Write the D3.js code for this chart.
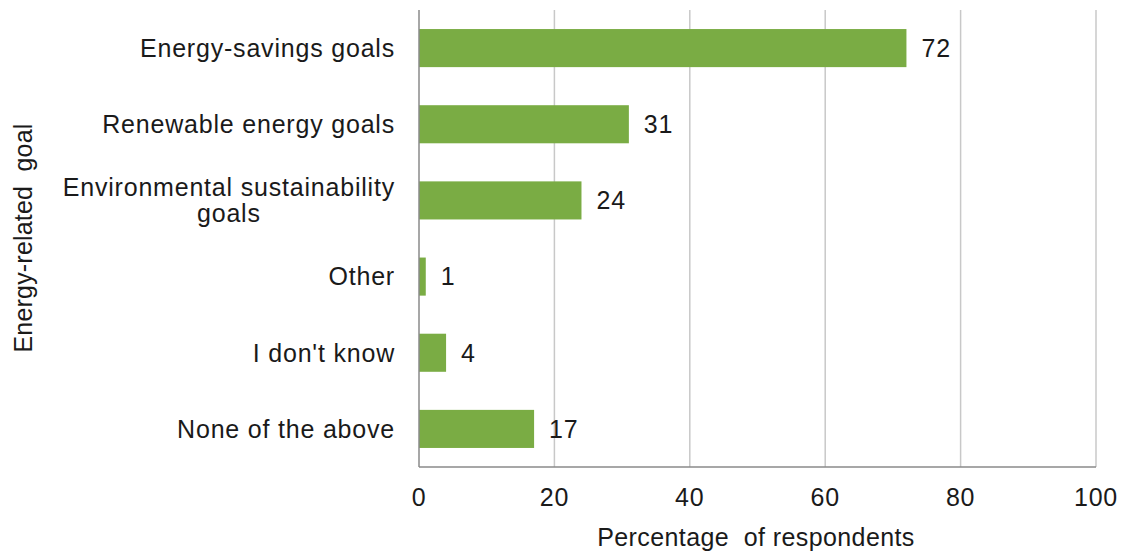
<!DOCTYPE html>
<html><head><meta charset="utf-8">
<script src="https://cdn.jsdelivr.net/npm/d3@7"></script>
<style>
body{margin:0;background:#fff;}
text{font-family:"Liberation Sans",Arial,sans-serif;fill:#1a1a1a;}
</style></head>
<body><svg id="c" width="1121" height="554"></svg>
<script>
const categories = [["Energy-savings goals"],["Renewable energy goals"],["Environmental sustainability","goals"],["Other"],["I don't know"],["None of the above"]];
const values = [72, 31, 24, 1, 4, 17];
const xTicks = [0, 20, 40, 60, 80, 100];
const xTitle = "Percentage  of respondents";
const yTitle = "Energy-related  goal";

const FS = 25, LS = "0.8px";
const svg = d3.select("#c");
const m = {left:419, right:1096, top:10, bottom:467};
const keys = categories.map(c => c.join(" "));
const x = d3.scaleLinear().domain([0,100]).range([m.left, m.right]);
const y = d3.scaleBand().domain(keys).range([m.top, m.bottom]).paddingInner(0.5).paddingOuter(0.25);

// gridlines
svg.append("g").selectAll("line").data(xTicks.slice(1)).join("line")
  .attr("x1", d=>x(d)).attr("x2", d=>x(d)).attr("y1", m.top).attr("y2", m.bottom)
  .attr("stroke", "#c8c8c8").attr("stroke-width", 1.5);

// bars
svg.append("g").selectAll("rect").data(values).join("rect")
  .attr("x", x(0)).attr("y", (d,i)=>y(keys[i]))
  .attr("width", d=>x(d)-x(0)).attr("height", y.bandwidth())
  .attr("fill", "#7aac44");

// value labels
svg.append("g").selectAll("text").data(values).join("text")
  .attr("x", d=>x(d)+15).attr("y", (d,i)=>y(keys[i])+y.bandwidth()/2)
  .attr("dy", "0.35em").attr("font-size", FS).style("letter-spacing", LS).text(d=>d);

// axes lines
svg.append("line").attr("x1", x(0)).attr("x2", x(0)).attr("y1", m.top).attr("y2", m.bottom)
  .attr("stroke", "#8a8a8a").attr("stroke-width", 1.5);
svg.append("line").attr("x1", x(0)).attr("x2", m.right).attr("y1", m.bottom).attr("y2", m.bottom)
  .attr("stroke", "#8a8a8a").attr("stroke-width", 1.5);

// x tick labels
svg.append("g").selectAll("text").data(xTicks).join("text")
  .attr("x", d=>x(d)).attr("y", 497).attr("dy","0.35em").attr("text-anchor","middle")
  .attr("font-size", FS).style("letter-spacing", LS).text(d=>d);

// category labels
const lab = svg.append("g");
categories.forEach((lines,i)=>{
  const cy = y(keys[i]) + y.bandwidth()/2;
  if (lines.length === 1) {
    lab.append("text").attr("x", 395).attr("y", cy).attr("dy","0.35em")
      .attr("text-anchor","end").attr("font-size", FS).style("letter-spacing", LS).text(lines[0]);
  } else {
    const t = lab.append("text").attr("font-size", FS).style("letter-spacing", LS).attr("text-anchor","middle");
    const tmp = t.append("tspan").text(lines[0]);
    const w = tmp.node().getComputedTextLength();
    tmp.remove();
    const cx = 395 - w/2;
    lines.forEach((ln,j)=>{
      t.append("tspan").attr("x", cx).attr("y", cy + (j - (lines.length-1)/2)*26).attr("dy","0.35em").text(ln);
    });
  }
});

// axis titles
svg.append("text").attr("x", 756).attr("y", 537).attr("dy","0.35em")
  .attr("text-anchor","middle").attr("font-size", FS).style("letter-spacing", "0.4px").style("white-space","pre").text(xTitle);
svg.append("text").attr("transform", "translate(23,238) rotate(-90)").attr("dy","0.35em")
  .attr("text-anchor","middle").attr("font-size", FS).style("letter-spacing", "0.2px").style("white-space","pre").text(yTitle);
</script></body></html>
